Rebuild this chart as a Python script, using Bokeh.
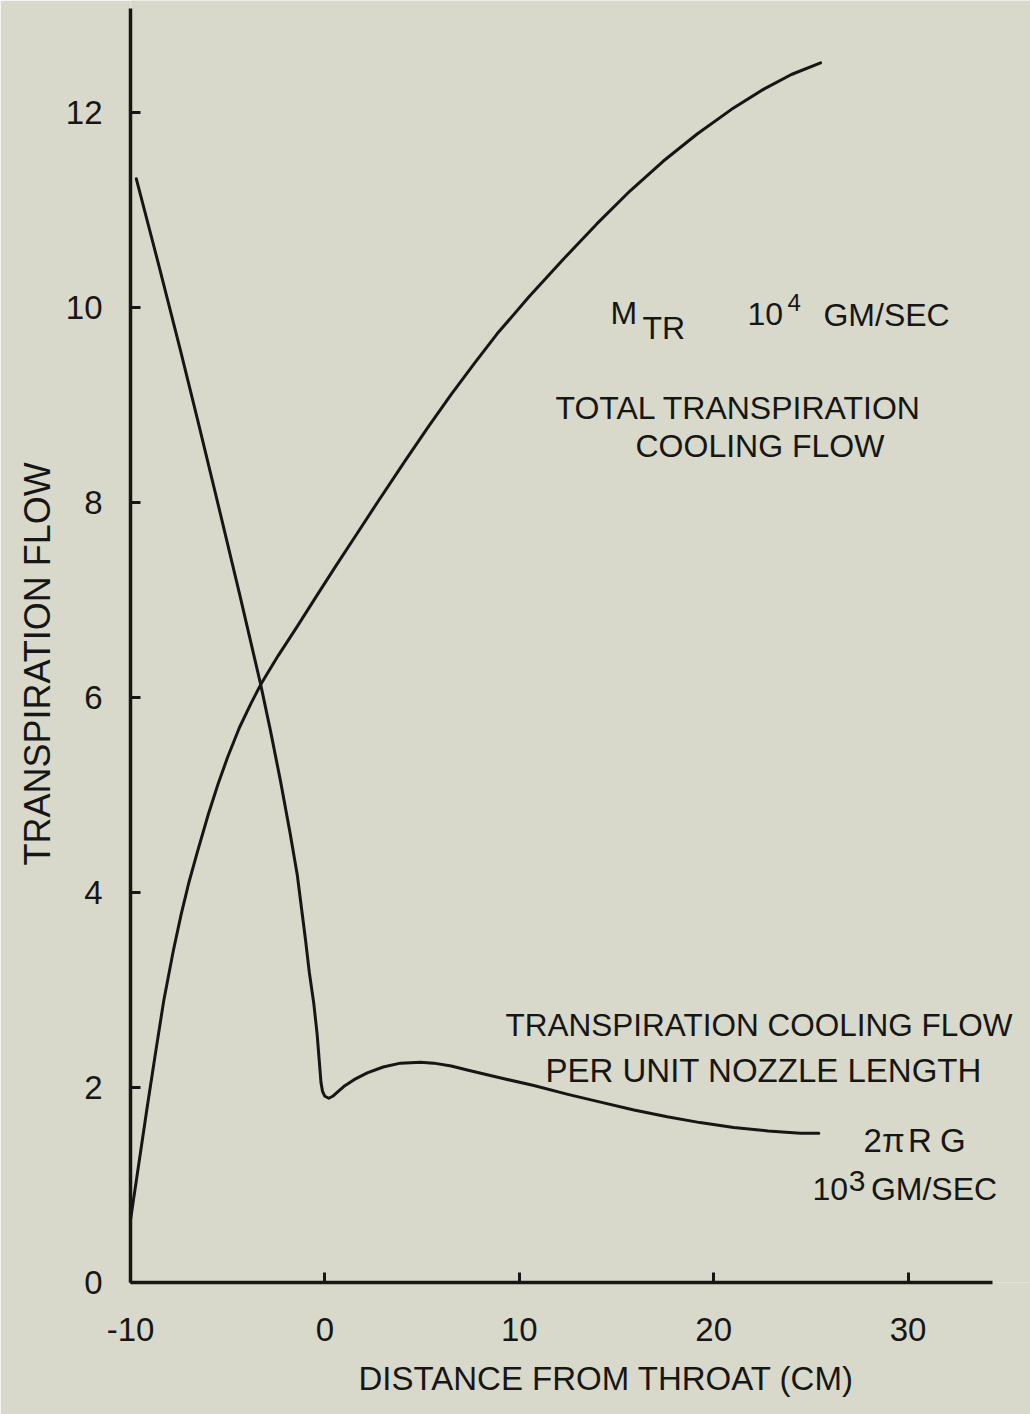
from bokeh.plotting import figure
from bokeh.models import Label, FixedTicker, Range1d, Title
from bokeh.embed import file_html
from bokeh.resources import INLINE

# Distance from throat (cm) and total transpiration cooling flow M_TR (x10^4 gm/sec)
total_x = [-10, -9.66, -9.14, -8.71, -8.29, -7.8, -7.4, -7.0, -6.57, -6.0, -5.5,
           -5.0, -4.4, -3.8, -3.31, -2.4, -1.42, -0.4, 0.6, 1.65, 2.7, 4.1, 5.3,
           6.5, 7.7, 8.86, 10.5, 12.29, 14.0, 15.72, 17.4, 19.15, 20.9, 22.58,
           24.0, 25.5]
total_y = [0.64, 1.10, 1.80, 2.36, 2.89, 3.40, 3.77, 4.10, 4.41, 4.80, 5.11,
           5.39, 5.69, 5.94, 6.13, 6.43, 6.73, 7.05, 7.36, 7.68, 8.00, 8.42, 8.77,
           9.11, 9.43, 9.73, 10.11, 10.50, 10.86, 11.20, 11.50, 11.78, 12.03, 12.24,
           12.39, 12.51]

# Transpiration cooling flow per unit nozzle length 2*pi*R*G (x10^3 gm/sec)
unit_x = [-9.70, -8.5, -7.43, -6.5, -5.54, -4.4, -3.31, -2.8, -2.28, -1.8, -1.42,
          -1.0, -0.8, -0.57, -0.4, -0.28, -0.2, -0.12, 0.0, 0.2, 0.4, 0.63, 0.97,
          1.5, 2.18, 3.0, 3.89, 4.92, 5.6, 6.5, 7.32, 9.0, 10.75, 12.5, 14.18,
          15.9, 17.61, 19.3, 21.03, 22.8, 24.47, 25.41]
unit_y = [11.32, 10.40, 9.56, 8.81, 8.02, 7.07, 6.14, 5.66, 5.14, 4.62, 4.18,
          3.52, 3.18, 2.86, 2.55, 2.25, 2.05, 1.96, 1.91, 1.89, 1.91, 1.95, 2.01,
          2.08, 2.15, 2.21, 2.25, 2.26, 2.25, 2.22, 2.18, 2.10, 2.02, 1.93, 1.85,
          1.77, 1.70, 1.64, 1.59, 1.555, 1.53, 1.53]

x_ticks = [-10, 0, 10, 20, 30]
y_ticks = [0, 2, 4, 6, 8, 10, 12]

PAPER = "#d8d9ca"
INK = "#161616"
FONT = "Liberation Sans"

p = figure(width=1030, height=1414, output_backend="svg", toolbar_location=None,
           x_range=Range1d(-10, 36.30), y_range=Range1d(0, 13.149),
           min_border_left=130, min_border_right=0, min_border_top=0,
           min_border_bottom=132)
p.background_fill_color = PAPER
p.border_fill_color = PAPER
p.outline_line_color = None
p.grid.visible = False

for ax in (p.xaxis[0], p.yaxis[0]):
    ax.axis_line_color = INK
    ax.axis_line_width = 3.5
    ax.major_tick_line_color = INK
    ax.major_tick_line_width = 3
    ax.major_tick_in = 10
    ax.major_tick_out = 0
    ax.minor_tick_line_color = None
    ax.major_label_text_font = FONT
    ax.major_label_text_font_size = "33px"
    ax.major_label_text_color = INK

p.xaxis.bounds = (-10, 34.34)
p.yaxis.bounds = (0, 13.067)
p.xaxis.ticker = FixedTicker(ticks=x_ticks)
p.yaxis.ticker = FixedTicker(ticks=y_ticks)
p.xaxis.major_label_overrides = {t: str(t) for t in x_ticks}
p.yaxis.major_label_overrides = {t: str(t) for t in y_ticks}
p.xaxis.major_label_standoff = 35
p.yaxis.major_label_standoff = 28

# axis titles
p.add_layout(Title(text="DISTANCE FROM THROAT (CM)", align="left", offset=228,
                   standoff=28, text_font=FONT, text_font_size="33px",
                   text_font_style="normal", text_color=INK), "below")
p.add_layout(Title(text="TRANSPIRATION FLOW", align="left", offset=417,
                   standoff=10, text_font=FONT, text_font_size="36px",
                   text_font_style="normal", text_color=INK), "left")

p.line(total_x, total_y, line_color=INK, line_width=3, line_join="round", line_cap="round")
p.line(unit_x, unit_y, line_color=INK, line_width=3, line_join="round", line_cap="round")


def note(x, y, text, size="32px"):
    p.add_layout(Label(x=x, y=y, text=text, text_font=FONT, text_font_size=size,
                       text_color=INK, text_align="left", text_baseline="alphabetic"))


# total flow annotation
note(14.69, 9.94, "M")
note(16.34, 9.79, "TR")
note(21.74, 9.93, "10")
note(23.80, 10.05, "4", size="24px")
note(25.65, 9.92, "GM/SEC")
note(11.86, 8.97, "TOTAL TRANSPIRATION")
note(15.98, 8.58, "COOLING FLOW")

# per-unit-length annotation
note(9.29, 2.64, "TRANSPIRATION COOLING FLOW", size="31.5px")
note(11.35, 2.17, "PER UNIT NOZZLE LENGTH", size="33px")
note(27.71, 1.46, "2\u03c0", size="33px")
note(30.0, 1.46, "R", size="33px")
note(31.65, 1.46, "G", size="33px")
note(25.08, 0.964, "10")
note(26.95, 1.04, "3", size="30px")
note(28.09, 0.964, "GM/SEC")

open("out.html", "w").write(file_html(p, INLINE))
